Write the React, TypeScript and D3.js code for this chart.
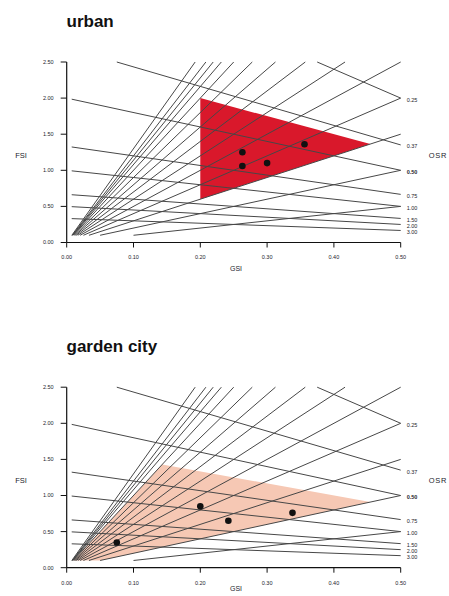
import React from "react";
import * as d3 from "d3";

// ---- data ----
const fanLayers = [1, 2, 3, 4, 5, 6, 7, 8, 9, 10, 10.8, 11.4, 12, 13];
const osrValues = [0.25, 0.37, 0.5, 0.75, 1.0, 1.5, 2.0, 3.0];
const osrLabels = ["0.25", "0.37", "0.50", "0.75", "1.00", "1.50", "2.00", "3.00"];
const gsiTicks = [0, 0.1, 0.2, 0.3, 0.4, 0.5];
const fsiTicks = [0, 0.5, 1.0, 1.5, 2.0, 2.5];

const urbanArea: [number, number][] = [
  [0.2, 0.6],
  [0.2, 2.0],
  [0.4545, 1.364],
];
const urbanGsi = [0.263, 0.263, 0.3, 0.356];
const urbanFsi = [1.25, 1.06, 1.1, 1.36];

const gardenArea: [number, number][] = [
  [0.01, 0.1],
  [0.05, 0.1],
  [0.4545, 0.909],
  [0.143, 1.43],
];
const gardenGsi = [0.075, 0.2, 0.242, 0.338];
const gardenFsi = [0.35, 0.85, 0.65, 0.76];

const W = 449;
const H = 596;
const FONT = "'Liberation Sans', Arial, Helvetica, sans-serif";

type PanelProps = {
  title: string;
  oy: number;
  area: [number, number][];
  fill: string;
  gsi: number[];
  fsi: number[];
};

function Panel({ title, oy, area, fill, gsi, fsi }: PanelProps) {
  const x = d3.scaleLinear().domain([0, 0.5]).range([66.7, 400.7]);
  const y = d3.scaleLinear().domain([0, 2.5]).range([oy + 242.5, oy + 62]);
  const line = d3
    .line<[number, number]>()
    .x((d) => x(d[0]))
    .y((d) => y(d[1]));

  const fanLines = fanLayers.map((L) => {
    const start: [number, number] = [0.1 / L, 0.1];
    const end: [number, number] =
      2.5 / L < 0.5 ? [2.5 / L, 2.5] : [0.5, 0.5 * L];
    return [start, end];
  });
  const osrLines = osrValues.map((o) => {
    const g0 = Math.max(0.0075, 1 - 2.5 * o);
    return [
      [g0, (1 - g0) / o],
      [0.5, 0.5 / o],
    ] as [number, number][];
  });

  const lineColor = "#474747";
  const textColor = "#1c1c2c";

  return (
    <g>
      <text
        x={66.5}
        y={oy + 27}
        fontFamily={FONT}
        fontWeight="bold"
        fontSize={17}
        fill="#111"
      >
        {title}
      </text>
      <path d={line(area.concat([area[0]])) || ""} fill={fill} stroke="none" />
      {fanLines.map((l, i) => (
        <path
          key={"f" + i}
          d={line(l as [number, number][]) || ""}
          stroke={lineColor}
          strokeWidth={1}
          fill="none"
        />
      ))}
      {osrLines.map((l, i) => (
        <path
          key={"o" + i}
          d={line(l) || ""}
          stroke={lineColor}
          strokeWidth={1}
          fill="none"
        />
      ))}
      {gsi.map((g, i) => (
        <circle key={"p" + i} cx={x(g)} cy={y(fsi[i])} r={3.3} fill="#111" />
      ))}
      {/* axes */}
      <line
        x1={x(0)}
        x2={x(0)}
        y1={y(2.5)}
        y2={y(0)}
        stroke="#111"
        strokeWidth={1.2}
      />
      <line
        x1={x(0)}
        x2={x(0.5)}
        y1={y(0)}
        y2={y(0)}
        stroke="#111"
        strokeWidth={1.2}
      />
      {fsiTicks.map((t) => (
        <g key={"yt" + t}>
          <line
            x1={x(0) - 6}
            x2={x(0)}
            y1={y(t)}
            y2={y(t)}
            stroke="#111"
            strokeWidth={1}
          />
          <text
            x={x(0) - 13}
            y={y(t)}
            dy="0.35em"
            textAnchor="end"
            fontFamily={FONT}
            fontSize={5.5}
            fill={textColor}
          >
            {d3.format(".2f")(t)}
          </text>
        </g>
      ))}
      {gsiTicks.map((t) => (
        <g key={"xt" + t}>
          <line
            x1={x(t)}
            x2={x(t)}
            y1={y(0)}
            y2={y(0) + 5}
            stroke="#111"
            strokeWidth={1}
          />
          <text
            x={x(t)}
            y={y(0) + 15}
            dy="0.35em"
            textAnchor="middle"
            fontFamily={FONT}
            fontSize={5.5}
            fill={textColor}
          >
            {d3.format(".2f")(t)}
          </text>
        </g>
      ))}
      {osrValues.map((o, i) => (
        <text
          key={"ol" + i}
          x={x(0.5) + 6}
          y={y(0.5 / o) + 1.5}
          dy="0.35em"
          fontFamily={FONT}
          fontSize={5.5}
          fill={textColor}
          fontWeight={o === 0.5 ? "bold" : "normal"}
        >
          {osrLabels[i]}
        </text>
      ))}
      <text
        x={21}
        y={oy + 155}
        dy="0.35em"
        textAnchor="middle"
        fontFamily={FONT}
        fontSize={7.5}
        fill={textColor}
      >
        FSI
      </text>
      <text
        x={438}
        y={oy + 155}
        dy="0.35em"
        textAnchor="middle"
        fontFamily={FONT}
        fontSize={7.5}
        letterSpacing={0.8}
        fill={textColor}
      >
        OSR
      </text>
      <text
        x={236}
        y={Math.min(oy + 269, 589)}
        dy="0.35em"
        textAnchor="middle"
        fontFamily={FONT}
        fontSize={7}
        fill={textColor}
      >
        GSI
      </text>
    </g>
  );
}

export default function App() {
  return (
    <svg
      width={W}
      height={H}
      style={{ position: "absolute", left: 0, top: 0, background: "#fff" }}
    >
      <rect width={W} height={H} fill="#fff" />
      <Panel
        title="urban"
        oy={0}
        area={urbanArea}
        fill="#d9182b"
        gsi={urbanGsi}
        fsi={urbanFsi}
      />
      <Panel
        title="garden city"
        oy={325.2}
        area={gardenArea}
        fill="#f6c8b4"
        gsi={gardenGsi}
        fsi={gardenFsi}
      />
    </svg>
  );
}
